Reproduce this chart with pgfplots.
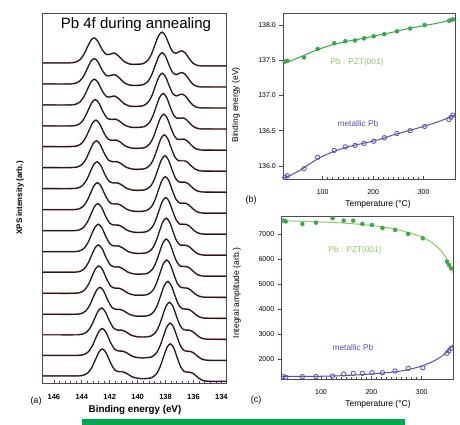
\documentclass[border=0pt]{standalone}
\usepackage{pgfplots}
\pgfplotsset{compat=1.18}
\usepackage{pgfplotstable}
\usepackage{fontspec}
\setmainfont{Liberation Sans}
\definecolor{pzt}{RGB}{55,170,70}
\definecolor{pztlt}{RGB}{140,205,95}
\definecolor{met}{RGB}{95,75,185}
\definecolor{frm}{RGB}{80,70,95}
\definecolor{barg}{RGB}{0,168,80}
\definecolor{spec}{RGB}{30,25,35}
\definecolor{specred}{RGB}{215,60,30}

% spectra: d = E - E(Pb-PZT 4f7/2); columns y0 (lowest T, bottom) ... y15 (highest T, top)
\pgfplotstableread{
d y0 y1 y2 y3 y4 y5 y6 y7 y8 y9 y10 y11 y12 y13 y14 y15
-4.7 0 0 0 0 0 0 0 0 0 0 0 0 0 0 0 0
-3.4 0 0 0 0 0 0 0 0 0 0 0 0 0 0 0 0
-2.6 0.2 0.2 0.2 0.2 0.2 0.2 0.2 0.2 0.2 0.2 0.2 0.2 0.2 0.3 0.3 0.3
-2.2 1.7 1.7 1.7 1.7 1.8 1.8 1.9 1.9 1.9 1.9 2.0 2.1 2.1 2.7 2.8 2.9
-1.9 4.8 4.8 4.8 4.8 4.9 5.2 5.3 5.3 5.3 5.3 5.5 5.9 5.9 7.5 7.9 8.2
-1.65 7.7 7.7 7.7 7.7 7.9 8.3 8.5 8.5 8.5 8.5 8.9 9.4 9.5 12.0 12.6 13.1
-1.45 9.0 8.9 9.0 9.0 9.2 9.6 9.8 9.8 9.9 9.9 10.3 10.9 11.0 13.8 14.4 15.0
-1.25 9.2 9.1 9.2 9.2 9.4 9.7 9.9 9.9 10.0 9.9 10.3 10.8 10.9 13.4 13.9 14.4
-1.0 9.8 9.7 9.7 9.7 9.9 10.1 10.2 10.1 10.2 10.1 10.4 10.6 10.7 12.1 12.4 12.7
-0.75 14.1 14.0 13.9 13.9 14.1 14.2 14.2 14.1 14.1 14.0 14.1 14.1 14.0 14.5 14.4 14.4
-0.5 23.1 22.9 22.7 22.8 23.0 23.0 23.0 22.7 22.7 22.5 22.5 22.3 22.2 21.9 21.6 21.4
-0.25 32.9 32.7 32.4 32.4 32.8 32.7 32.7 32.3 32.2 32.0 32.0 31.6 31.4 30.7 30.3 29.8
0 37.6 37.3 37.0 36.9 37.3 37.2 37.1 36.7 36.6 36.4 36.3 35.9 35.6 34.8 34.3 33.8
0.25 33.9 33.5 33.2 33.1 33.4 33.3 33.2 32.8 32.7 32.5 32.5 32.1 31.8 31.1 30.6 30.2
0.5 24.3 23.9 23.6 23.5 23.7 23.6 23.4 23.2 23.1 23.0 22.9 22.7 22.4 21.9 21.6 21.3
0.75 14.3 14.0 13.7 13.5 13.7 13.6 13.4 13.3 13.2 13.2 13.1 13.0 12.7 12.4 12.3 12.1
1.0 7.6 7.3 7.0 6.8 6.9 6.9 6.6 6.6 6.5 6.5 6.5 6.5 6.2 6.1 6.0 5.9
1.35 3.7 3.4 3.2 2.9 2.9 2.9 2.7 2.7 2.7 2.7 2.7 2.6 2.4 2.4 2.4 2.3
1.8 2.8 2.6 2.3 2.1 2.1 2.1 1.8 1.8 1.8 1.8 1.8 1.8 1.6 1.6 1.6 1.6
2.3 3.0 2.7 2.5 2.2 2.2 2.2 2.0 2.0 2.0 2.0 2.0 2.0 1.7 1.8 1.8 1.8
2.75 4.6 4.3 4.1 3.9 3.9 4.0 3.8 3.8 3.8 3.8 3.9 4.0 3.8 4.4 4.5 4.7
3.1 7.7 7.4 7.2 6.9 7.0 7.3 7.1 7.1 7.2 7.2 7.4 7.8 7.6 9.1 9.5 9.8
3.41 9.6 9.2 9.1 8.8 9.0 9.3 9.2 9.1 9.2 9.2 9.5 10.0 9.8 11.9 12.3 12.8
3.7 9.7 9.4 9.2 8.9 9.1 9.3 9.2 9.2 9.2 9.2 9.4 9.8 9.6 11.2 11.5 11.8
4.0 11.7 11.4 11.1 10.8 11.0 11.1 10.9 10.8 10.8 10.8 10.9 11.0 10.7 11.3 11.4 11.5
4.3 18.9 18.5 18.1 17.9 18.1 18.1 17.8 17.6 17.6 17.5 17.5 17.4 17.0 16.9 16.8 16.6
4.6 28.4 27.9 27.4 27.2 27.5 27.4 27.1 26.8 26.7 26.6 26.5 26.3 25.8 25.3 25.0 24.6
4.86 32.4 31.9 31.3 31.0 31.3 31.3 30.9 30.6 30.5 30.3 30.3 30.0 29.4 28.8 28.4 28.0
5.1 29.8 29.2 28.7 28.3 28.6 28.5 28.1 27.8 27.8 27.6 27.6 27.3 26.7 26.2 25.8 25.5
5.35 22.5 22.0 21.4 21.0 21.2 21.1 20.7 20.5 20.4 20.3 20.3 20.1 19.5 19.2 18.9 18.7
5.6 14.8 14.2 13.7 13.2 13.3 13.3 12.8 12.7 12.7 12.6 12.6 12.5 12.0 11.8 11.6 11.5
5.9 8.7 8.2 7.7 7.2 7.2 7.2 6.7 6.7 6.7 6.6 6.6 6.6 6.1 6.0 6.0 5.9
6.3 5.9 5.4 4.9 4.4 4.4 4.4 3.9 3.9 3.9 3.9 3.9 3.9 3.4 3.4 3.4 3.4
6.9 5.5 5.0 4.5 4.0 4.0 4.0 3.5 3.5 3.5 3.5 3.5 3.5 3.0 3.0 3.0 3.0
7.8 5.5 5.0 4.5 4.0 4.0 4.0 3.5 3.5 3.5 3.5 3.5 3.5 3.0 3.0 3.0 3.0
9.2 5.5 5.0 4.5 4.0 4.0 4.0 3.5 3.5 3.5 3.5 3.5 3.5 3.0 3.0 3.0 3.0
}\spectra

\pgfplotstableread{
T bPZT bMet cPZT cMet
25 137.48 135.84 7533 1293
30 137.49 135.86 7500 1267
63 137.54 135.96 7400 1293
90 137.66 136.12 7453 1293
123 137.74 136.22 7627 1320
145 137.77 136.27 7533 1400
164 137.78 136.29 7533 1427
182 137.81 136.32 7400 1427
201 137.84 136.35 7360 1453
222 137.87 136.40 7240 1453
247 137.91 136.46 7160 1520
273 137.95 136.50 7000 1627
302 138.00 136.56 6827 1653
350 138.06 136.66 5893 2227
354 138.07 136.69 5760 2330
358 138.08 136.72 5627 2427
}\tdata

\pgfplotstableread{
T bPZT bMet
20 137.46 135.82
40 137.50 135.88
60 137.56 135.96
90 137.65 136.10
120 137.72 136.20
150 137.77 136.27
180 137.81 136.32
210 137.855 136.37
240 137.90 136.44
270 137.95 136.50
300 137.99 136.56
330 138.03 136.63
362 138.085 136.72
}\bfit

\pgfplotstableread{
T cPZT
20 7530
60 7510
100 7480
140 7440
180 7380
220 7290
250 7180
280 7020
300 6880
320 6660
335 6400
345 6150
355 5780
362 5450
}\cfitA

\pgfplotstableread{
T cMet
20 1300
100 1310
150 1340
200 1400
240 1470
270 1560
300 1720
320 1880
335 2050
345 2200
355 2400
362 2560
}\cfitB

\newcommand{\spec}[3]{%
\addplot[specred!80, line width=0.8pt, smooth, forget plot] table[x expr=\thisrow{d}+#2, y expr=\thisrow{#1}+#3+0.55] {\spectra};
\addplot[spec, line width=1.2pt, smooth, forget plot] table[x expr=\thisrow{d}+#2, y expr=\thisrow{#1}+#3] {\spectra};
}

\begin{document}
\begin{tikzpicture}[x=1pt,y=1pt]
\useasboundingbox (0,0) rectangle (460,425);
\fill[white] (0,0) rectangle (460,425);

% ---------- (a) ----------
\begin{axis}[at={(42.7pt,41pt)}, anchor=south west, scale only axis,
  width=184.3pt, height=370pt,
  x dir=reverse, xmin=133.6, xmax=146.8, ymin=0, ymax=370,
  ytick=\empty, xtick={134,136,...,146}, minor x tick num=4,
  xtick pos=bottom, tick align=inside,
  major tick length=4pt, minor tick length=2.5pt,
  axis line style={frm, line width=1pt}, tick style={frm, line width=0.6pt},
  /pgf/number format/assume math mode=true,
  xticklabel style={font=\bfseries\fontsize{7.5}{9}\selectfont, yshift=-7pt}]
\spec{y0}{137.65}{2.5}
\spec{y1}{137.66}{23.5}
\spec{y2}{137.71}{44.6}
\spec{y3}{137.83}{65.6}
\spec{y4}{137.91}{86.6}
\spec{y5}{137.94}{107.7}
\spec{y6}{137.95}{128.7}
\spec{y7}{137.98}{149.7}
\spec{y8}{138.01}{170.7}
\spec{y9}{138.04}{191.8}
\spec{y10}{138.08}{212.8}
\spec{y11}{138.12}{233.8}
\spec{y12}{138.17}{254.9}
\spec{y13}{138.23}{275.9}
\spec{y14}{138.24}{296.9}
\spec{y15}{138.25}{318.0}
\node[font=\fontsize{15}{18}\selectfont] at (axis description cs:0.506,0.97) {Pb 4f during annealing};
\end{axis}

% ---------- (b) ----------
\begin{axis}[at={(283.3pt,245pt)}, anchor=south west, scale only axis,
  width=171.7pt, height=166pt,
  xmin=22, xmax=362, ymin=135.80, ymax=138.156,
  xtick={100,200,300}, minor x tick num=9,
  ytick={136,136.5,137,137.5,138},
  xtick pos=bottom, ytick pos=left, xtick align=inside, ytick align=outside,
  major tick length=4pt, minor tick length=2.5pt,
  axis line style={frm, line width=1pt}, tick style={frm, line width=0.6pt},
  /pgf/number format/assume math mode=true,
  yticklabel style={/pgf/number format/fixed, /pgf/number format/fixed zerofill, /pgf/number format/precision=1, font=\fontsize{7}{8}\selectfont},
  xticklabel style={font=\fontsize{7}{8}\selectfont, yshift=-6pt}]
\addplot[pzt, line width=1pt, smooth] table[x=T, y=bPZT] {\bfit};
\addplot[met, line width=1pt, smooth] table[x=T, y=bMet] {\bfit};
\addplot[only marks, mark=*, mark size=2pt, color=pzt] table[x=T, y=bPZT] {\tdata};
\addplot[only marks, mark=o, mark size=2.2pt, color=met, line width=0.8pt] table[x=T, y=bMet] {\tdata};
\end{axis}

% ---------- (c) ----------
\begin{axis}[at={(281.7pt,45pt)}, anchor=south west, scale only axis,
  width=171.3pt, height=163.3pt,
  xmin=22, xmax=362, ymin=1160, ymax=7690,
  xtick={100,200,300}, minor x tick num=9,
  ytick={2000,3000,4000,5000,6000,7000},
  xtick pos=bottom, ytick pos=left, xtick align=inside, ytick align=outside,
  major tick length=4pt, minor tick length=2.5pt,
  axis line style={frm, line width=1pt}, tick style={frm, line width=0.6pt},
  /pgf/number format/assume math mode=true, /pgf/number format/1000 sep={},
  yticklabel style={font=\fontsize{7}{8}\selectfont},
  xticklabel style={font=\fontsize{7}{8}\selectfont, yshift=-6pt}]
\addplot[pztlt, line width=1pt, smooth] table[x=T, y=cPZT] {\cfitA};
\addplot[met, line width=1pt, smooth] table[x=T, y=cMet] {\cfitB};
\addplot[only marks, mark=*, mark size=2pt, color=pzt] table[x=T, y=cPZT] {\tdata};
\addplot[only marks, mark=o, mark size=2.2pt, color=met, line width=0.8pt] table[x=T, y=cMet] {\tdata};
\end{axis}

% ---------- labels ----------
\node[font=\bfseries\fontsize{9.8}{11}\selectfont] at (135,15) {Binding energy (eV)};
\node[font=\bfseries\fontsize{8}{9}\selectfont, rotate=90] at (20,227) {XPS intensity (arb.)};
\node[font=\fontsize{9}{10}\selectfont] at (36,24) {(a)};
\node[font=\fontsize{9}{10}\selectfont] at (251,225) {(b)};
\node[font=\fontsize{9}{10}\selectfont] at (256,25) {(c)};
\node[font=\fontsize{8.5}{10}\selectfont] at (378,221) {Temperature (°C)};
\node[font=\fontsize{8.5}{10}\selectfont] at (378,21) {Temperature (°C)};
\node[font=\fontsize{8.5}{10}\selectfont, rotate=90] at (236,320) {Binding energy (eV)};
\node[font=\fontsize{8.5}{10}\selectfont, rotate=90] at (237,132) {Integral amplitude (arb.)};
\node[font=\fontsize{8.3}{10}\selectfont, text=pztlt] at (357,363) {Pb : PZT(001)};
\node[font=\fontsize{8.3}{10}\selectfont, text=met] at (358,301) {metallic Pb};
\node[font=\fontsize{8.3}{10}\selectfont, text=pztlt] at (355,175) {Pb : PZT(001)};
\node[font=\fontsize{8.3}{10}\selectfont, text=met] at (353,77) {metallic Pb};
\fill[barg] (82,0) rectangle (405,6);
\end{tikzpicture}
\end{document}
